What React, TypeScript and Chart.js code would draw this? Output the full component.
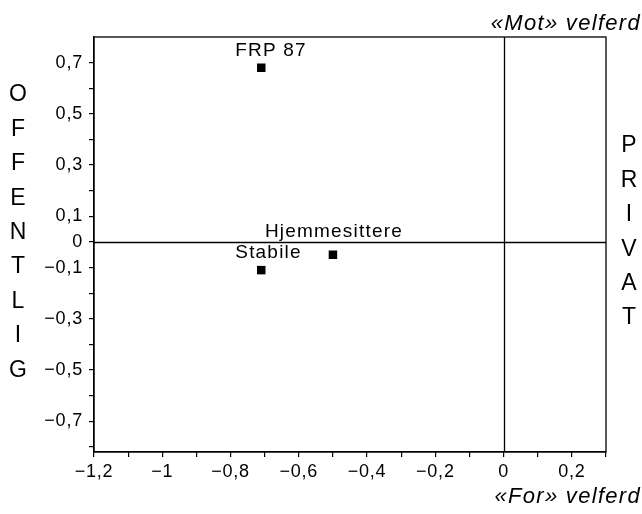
import React, { useEffect, useRef } from "react";
import { Chart, registerables } from "chart.js";

Chart.register(...registerables);

const categories = ["FRP 87", "Hjemmesittere", "Stabile"];
const xValues = [-0.71, -0.5, -0.71];
const yValues = [0.68, -0.05, -0.11];

const xTickValues = [-1.2, -1.1, -1.0, -0.9, -0.8, -0.7, -0.6, -0.5, -0.4, -0.3, -0.2, -0.1, 0, 0.1, 0.2, 0.3];
const xTickLabels = ["−1,2", "", "−1", "", "−0,8", "", "−0,6", "", "−0,4", "", "−0,2", "", "0", "", "0,2", ""];
const yTickValues = [-0.8, -0.7, -0.6, -0.5, -0.4, -0.3, -0.2, -0.1, 0, 0.1, 0.2, 0.3, 0.4, 0.5, 0.6, 0.7];
const yTickLabels = ["", "−0,7", "", "−0,5", "", "−0,3", "", "−0,1", "0", "0,1", "", "0,3", "", "0,5", "", "0,7"];

const leftTitle = ["O", "F", "F", "E", "N", "T", "L", "I", "G"];
const rightTitle = ["P", "R", "I", "V", "A", "T"];
const topTitle = "«Mot» velferd";
const bottomTitle = "«For» velferd";

// label offsets (px) relative to marker: [dx to left edge, dy to text middle]
const labelOffsets = [
  [-26, -17],
  [-68, -23],
  [-26, -17],
];

const FONT = "'Liberation Sans', Arial, Helvetica, sans-serif";
const INK = "#000";

export default function App() {
  const ref = useRef<HTMLCanvasElement | null>(null);

  useEffect(() => {
    const canvas = ref.current;
    if (!canvas) return;

    const overlay = {
      id: "overlay",
      beforeDraw(chart: any) {
        const ctx = chart.ctx;
        ctx.save();
        ctx.fillStyle = "#ffffff";
        ctx.fillRect(0, 0, chart.width, chart.height);
        ctx.restore();
        ctx.letterSpacing = "0.8px";
      },
      afterDatasetsDraw(chart: any) {
        const ctx = chart.ctx;
        const xs = chart.scales.x;
        const ys = chart.scales.y;
        const a = chart.chartArea;
        ctx.save();
        ctx.strokeStyle = INK;
        ctx.lineWidth = 1.3;
        ctx.strokeRect(a.left, a.top, a.right - a.left, a.bottom - a.top);
        const x0 = Math.round(xs.getPixelForValue(0)) + 0.5;
        const y0 = Math.round(ys.getPixelForValue(0)) + 0.5;
        ctx.beginPath();
        ctx.moveTo(x0, a.top);
        ctx.lineTo(x0, a.bottom);
        ctx.moveTo(a.left, y0);
        ctx.lineTo(a.right, y0);
        ctx.stroke();

        ctx.fillStyle = INK;
        ctx.letterSpacing = "1.2px";
        ctx.font = `19px ${FONT}`;
        ctx.textBaseline = "middle";
        ctx.textAlign = "left";
        categories.forEach((name, i) => {
          const px = xs.getPixelForValue(xValues[i]);
          const py = ys.getPixelForValue(yValues[i]);
          ctx.fillText(name, px + labelOffsets[i][0], py + labelOffsets[i][1]);
        });

        ctx.font = `23px ${FONT}`;
        ctx.letterSpacing = "0px";
        ctx.textAlign = "center";
        leftTitle.forEach((ch, i) => ctx.fillText(ch, 18, 95 + i * 34.4));
        rightTitle.forEach((ch, i) => ctx.fillText(ch, 629, 146 + i * 34.4));

        ctx.font = `italic 22px ${FONT}`;
        ctx.letterSpacing = "1.3px";
        ctx.textAlign = "right";
        ctx.fillText(topTitle, 641, 24);
        ctx.fillText(bottomTitle, 641, 497);
        ctx.restore();
      },
    };

    const chart = new Chart(canvas, {
      type: "scatter",
      data: {
        datasets: [
          {
            label: "points",
            data: xValues.map((x, i) => ({ x, y: yValues[i] })),
            pointStyle: "rect",
            pointRadius: 6,
            pointHoverRadius: 6,
            backgroundColor: INK,
            borderColor: INK,
            borderWidth: 0,
          },
        ],
      },
      options: {
        animation: false,
        responsive: false,
        events: [],
        layout: { padding: { top: 37, right: 36, left: 0, bottom: 0 } },
        plugins: {
          legend: { display: false },
          tooltip: { enabled: false },
        },
        scales: {
          x: {
            type: "linear",
            min: -1.2,
            max: 0.3,
            afterBuildTicks: (s: any) => {
              s.ticks = xTickValues.map((v) => ({ value: v }));
            },
            afterFit: (s: any) => {
              s.height = 62;
            },
            ticks: {
              autoSkip: false,
              maxRotation: 0,
              color: INK,
              padding: 4,
              font: { family: FONT, size: 18 },
              callback: (v: any, i: number) => xTickLabels[i] ?? "",
            },
            grid: {
              drawOnChartArea: false,
              drawTicks: true,
              tickLength: 5,
              color: INK,
              lineWidth: 1.2,
            },
            border: { display: true, color: INK, width: 1.3 },
          },
          y: {
            type: "linear",
            min: -0.82,
            max: 0.8,
            afterBuildTicks: (s: any) => {
              s.ticks = yTickValues.map((v) => ({ value: v }));
            },
            afterFit: (s: any) => {
              s.width = 94;
            },
            ticks: {
              autoSkip: false,
              color: INK,
              padding: 6,
              font: { family: FONT, size: 18 },
              callback: (v: any, i: number) => yTickLabels[i] ?? "",
            },
            grid: {
              drawOnChartArea: false,
              drawTicks: true,
              tickLength: 5,
              color: INK,
              lineWidth: 1.2,
            },
            border: { display: true, color: INK, width: 1.3 },
          },
        },
      },
      plugins: [overlay],
    });

    return () => chart.destroy();
  }, []);

  return (
    <div style={{ position: "fixed", left: 0, top: 0, width: 642, height: 514, background: "#fff" }}>
      <canvas ref={ref} width={642} height={514} style={{ width: 642, height: 514 }} />
    </div>
  );
}
